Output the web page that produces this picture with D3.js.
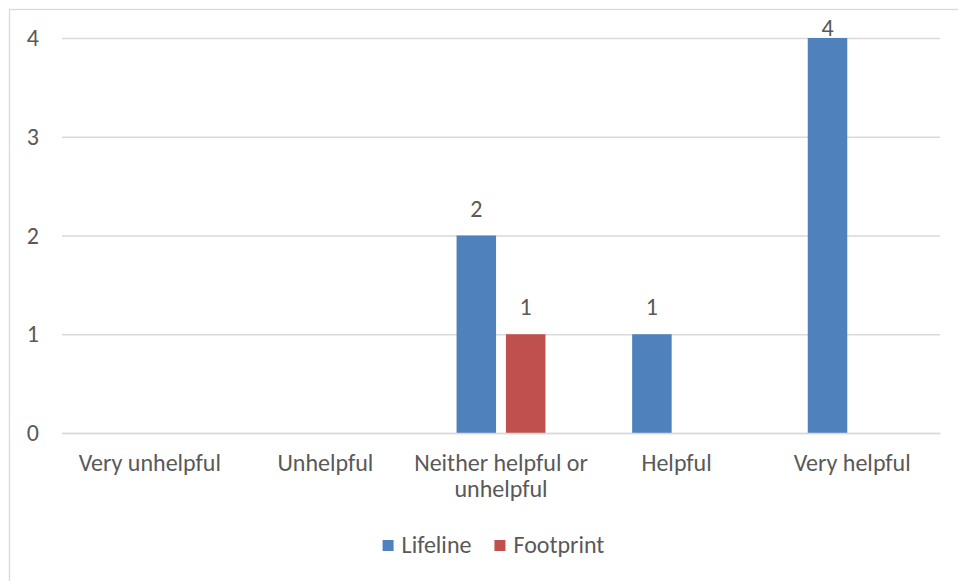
<!DOCTYPE html>
<html>
<head>
<meta charset="utf-8">
<script src="https://cdn.jsdelivr.net/npm/d3@7/dist/d3.min.js"></script>
<style>
  html, body { margin: 0; padding: 0; background: #fff; }
  svg { display: block; }
  text { font-family: Carlito, "Open Sans", sans-serif; fill: #595959; }
</style>
</head>
<body>
<svg id="chart" width="958" height="581"></svg>
<script>
// Survey responses: how helpful each resource was
const categories = ["Very unhelpful", "Unhelpful", "Neither helpful or unhelpful", "Helpful", "Very helpful"];
const seriesNames = ["Lifeline", "Footprint"];
const lifeline = [0, 0, 2, 1, 4];
const footprint = [0, 0, 1, 0, 0];
const yTicks = [0, 1, 2, 3, 4];
const colors = ["#4F81BD", "#C0504D"];

const seriesValues = [lifeline, footprint];
const rows = categories.map((c, i) => ({
  category: c,
  values: seriesNames.map((s, j) => ({ series: s, value: seriesValues[j][i], color: colors[j] }))
}));

const W = 958, H = 581;
const svg = d3.select("#chart");
const FONT = 24;
const FAMILY = "Carlito, 'Open Sans', sans-serif";

// Chart frame (top and left edges visible)
svg.append("rect")
  .attr("x", 9.5).attr("y", 9.5)
  .attr("width", W + 20).attr("height", H + 20)
  .attr("fill", "none").attr("stroke", "#d9d9d9").attr("stroke-width", 1.3);

const plot = { left: 62, right: 940, top: 38, bottom: 433 };

const x0 = d3.scaleBand().domain(categories).range([plot.left, plot.right]).paddingInner(0).paddingOuter(0);
const x1 = d3.scaleBand().domain(seriesNames).range([0, x0.bandwidth()]).paddingInner(0.2).paddingOuter(0.878);
const y = d3.scaleLinear().domain([0, 4]).range([plot.bottom, plot.top]);

// Gridlines and y tick labels
const yAxis = d3.axisLeft(y).tickValues(yTicks).tickSize(-(plot.right - plot.left)).tickPadding(23).tickFormat(d3.format("d"));
const gy = svg.append("g").attr("transform", `translate(${plot.left},0)`).call(yAxis);
gy.select(".domain").remove();
gy.selectAll(".tick line").attr("stroke", "#d9d9d9").attr("stroke-width", 1.3);
gy.selectAll(".tick text").attr("font-size", FONT).attr("fill", "#595959")
  .style("font-family", FAMILY);

// Bars
const groups = svg.append("g").selectAll("g").data(rows).join("g")
  .attr("transform", d => `translate(${x0(d.category)},0)`);

groups.selectAll("rect").data(d => d.values.filter(v => v.value > 0)).join("rect")
  .attr("x", d => x1(d.series))
  .attr("width", x1.bandwidth())
  .attr("y", d => y(d.value))
  .attr("height", d => y(0) - y(d.value))
  .attr("fill", d => d.color);

// Value labels above bars, kept inside the chart frame
groups.selectAll("text.val").data(d => d.values.filter(v => v.value > 0)).join("text")
  .attr("class", "val")
  .attr("x", d => x1(d.series) + x1.bandwidth() / 2)
  .attr("y", d => Math.max(y(d.value) - 19, 36))
  .attr("text-anchor", "middle")
  .attr("font-size", FONT)
  .text(d => d.value);

// Category labels, wrapped to the band width
const xAxis = d3.axisBottom(x0).tickSize(0).tickPadding(0);
const gx = svg.append("g").attr("transform", `translate(0,${plot.bottom})`).call(xAxis);
gx.select(".domain").attr("stroke", "#d9d9d9").attr("stroke-width", 1.3);
gx.selectAll(".tick text").each(function (d) {
  const t = d3.select(this);
  t.text(null).attr("y", 0).attr("dy", null)
    .attr("font-size", FONT).attr("fill", "#595959")
    .style("font-family", FAMILY);
  const words = d.split(" ");
  const maxW = x0.bandwidth() * 1.08;
  let lines = [[]];
  const probe = t.append("tspan");
  words.forEach(w => {
    const cur = lines[lines.length - 1];
    probe.text(cur.concat(w).join(" "));
    if (cur.length && probe.node().getComputedTextLength() > maxW) lines.push([w]);
    else cur.push(w);
  });
  probe.remove();
  lines.forEach((ln, i) => {
    t.append("tspan").attr("x", 0).attr("y", 38 + i * 26).text(ln.join(" "));
  });
});

// Legend centred under the plot
const legend = svg.append("g");
let lx = 0;
seriesNames.forEach((s, i) => {
  const g = legend.append("g");
  g.append("rect").attr("x", 0).attr("y", -13).attr("width", 11).attr("height", 11).attr("fill", colors[i]);
  const tx = g.append("text").attr("x", 19).attr("y", 0).attr("font-size", FONT).text(s);
  const w = 19 + tx.node().getComputedTextLength();
  g.attr("transform", `translate(${lx},0)`);
  lx += w + 23;
});
const legendW = lx - 23;
legend.attr("transform", `translate(${493.5 - legendW / 2},553)`);
</script>
</body>
</html>
